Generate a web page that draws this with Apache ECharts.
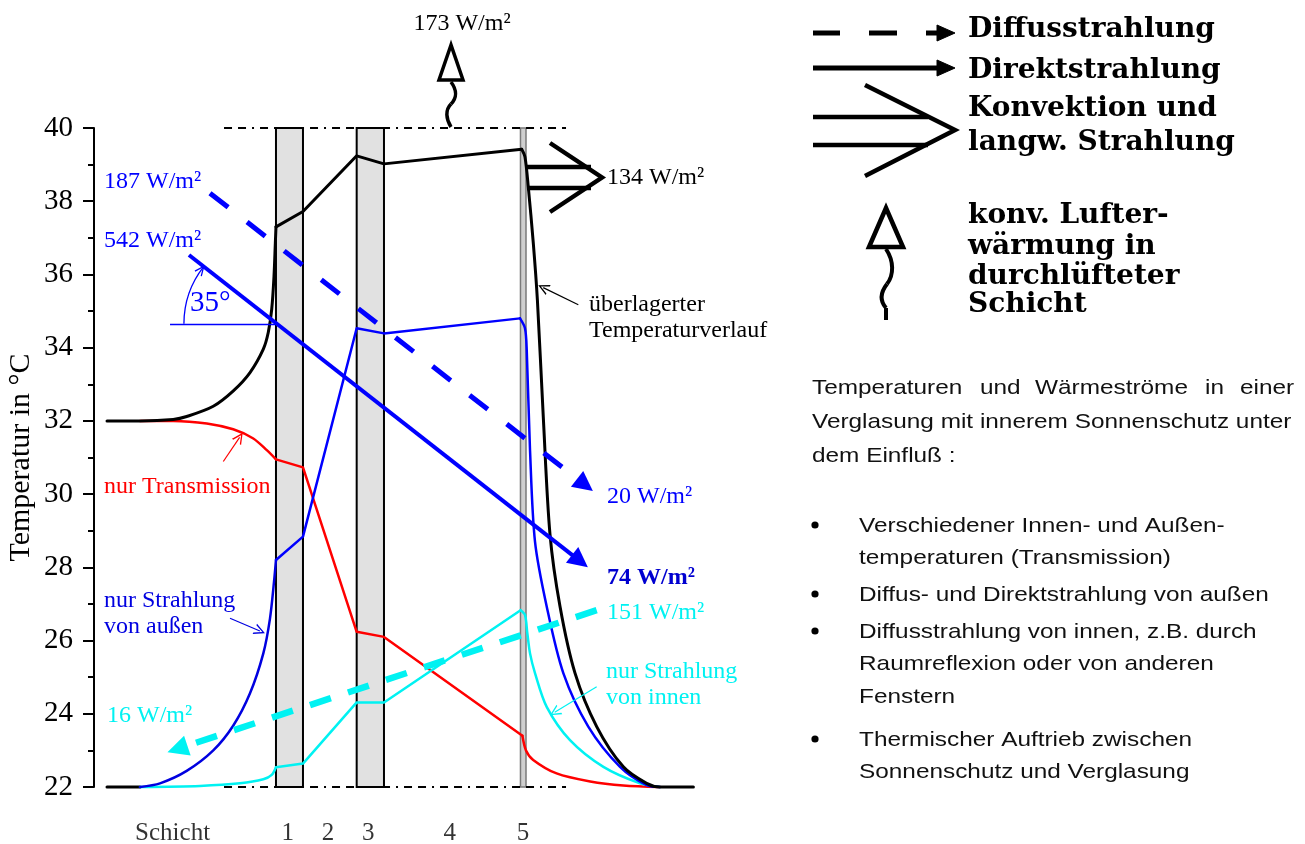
<!DOCTYPE html>
<html><head><meta charset="utf-8">
<script src="https://cdn.jsdelivr.net/npm/echarts@6/dist/echarts.min.js"></script>
<style>html,body{margin:0;padding:0;background:#fff}#c{width:1305px;height:844px}</style>
</head><body><div id="c"></div>
<script>
// ---------- data (x: position across the glazing, arbitrary units 0..100; y: temperature in °C) ----------
const layerBands = [[30.33, 34.83], [43.78, 48.33], [71.08, 72.0]];
const layerNames = ['Schicht', '1', '2', '3', '4', '5'];
const layerNamePos = [13.1, 32.3, 39.0, 45.7, 59.3, 71.5];

const blackLowFlat = [[2.17, 22], [7.67, 22]];
const blackLeft = [[2.17,32],[7.67,32],[13.2,32.04],[15.45,32.12],[19.88,32.4],[23.22,32.82],[26,33.32],[28.22,33.96],[29.05,34.42],[29.62,35.05],[30.0,35.95],[30.22,36.85],[30.33,37.3]];
const blackLayers = [[30.33,37.3],[34.83,37.72],[43.78,39.24],[48.33,39.02],[71.28,39.42]];
const blackRight = [[71.28,39.42],[71.83,39.21],[72.38,38.39],[73.22,36.85],[73.9,35.3],[74.88,32.11],[76.0,28.9],[77.67,26.93],[80.17,25.11],[83.78,23.65],[88.22,22.55],[92.1,22.1],[94.33,22.0],[99.9,22.0]];

const redLeft = [[7.67,32],[13.2,32],[18.8,31.93],[23.2,31.77],[26.55,31.52],[28.8,31.2],[30.33,30.95]];
const redLayers = [[30.33,30.95],[34.83,30.73],[43.78,26.24],[48.33,26.1],[71.4,23.4]];
const redRight = [[71.4,23.4],[72.0,23.0],[73.2,22.74],[77.1,22.37],[82.7,22.15],[88.2,22.04],[94.33,22]];

const blueLeft = [[7.67,22],[11,22.1],[15.45,22.44],[19.88,23.0],[23.22,23.68],[26,24.56],[28.22,25.65],[29.33,26.6],[30,27.6],[30.33,28.2]];
const blueLayers = [[30.33,28.2],[34.83,28.84],[43.78,34.53],[48.33,34.39],[71.0,34.8]];
const blueRight = [[71.0,34.8],[71.83,34.53],[72.12,33.94],[72.67,31.2],[73.5,28.7],[75.45,26.93],[78.22,25.11],[82.38,23.65],[87.67,22.55],[92.1,22.05],[94.33,22]];

const cyanLeft = [[7.67,22],[17.67,22.03],[24.33,22.1],[28.22,22.21],[29.62,22.33],[30.33,22.54]];
const cyanLayers = [[30.33,22.54],[34.83,22.64],[43.78,24.31],[48.33,24.31],[71.1,26.83]];
const cyanRight = [[71.1,26.83],[71.83,26.7],[72.22,26.2],[72.67,25.65],[73.5,25.11],[75.45,24.19],[79.33,23.28],[84.9,22.55],[91,22.1],[94.33,22]];

// radiation flux arrows (start, arrow end)
const diffusOutside = [[19.33, 38.22], [81.83, 30.25]];
const direktOutside = [[15.83, 36.53], [81.0, 28.17]];
const diffusInside = [[83.78, 26.83], [13.9, 23.04]];
const angleRef = [[12.67, 34.65], [30.17, 34.65]];
const boundaryTop = [[21.67, 40], [78.67, 40]];
const boundaryBottom = [[21.67, 22], [78.67, 22]];

// pointer arrows of the curve labels (start, tip)
const pointerRed = [[21.55, 30.89], [24.27, 31.55]];
const pointerBlue = [[22.67, 26.61], [27.65, 26.26]];
const pointerCyan = [[83.78, 24.74], [76.78, 24.04]];
const pointerBlack = [[80.72, 35.17], [74.87, 35.64]];

const fluxLabels = ['187 W/m²', '542 W/m²', '20 W/m²', '74 W/m²', '151 W/m²', '16 W/m²', '173 W/m²', '134 W/m²'];

// ---------- styles ----------
const SERIF = 'Liberation Serif';
const C_BLACK = '#000000', C_RED = '#ff0000', C_BLUE = '#0000e0', C_BLUE2 = '#0000ff', C_CYAN = '#00f2f2';

function curve(data, color, width, smooth) {
  return { type: 'line', data, symbol: 'none', showSymbol: false, silent: true, z: 4,
    smooth: smooth ? 0.3 : false, clip: false,
    lineStyle: { color, width, join: 'round', cap: 'round' } };
}
function lineSeg(coordsList, color, width, type, endSymbol, symSize, z) {
  return { type: 'lines', coordinateSystem: 'cartesian2d', silent: true, z: z || 5,
    polyline: false, clip: false,
    symbol: ['none', endSymbol || 'none'], symbolSize: symSize || 10,
    lineStyle: { color, width, type: type || 'solid', opacity: 1, curveness: 0, cap: 'butt' },
    data: coordsList.map(c => ({ coords: c })) };
}
const CHEV = 'path://M0,10 L5,0 L10,10 L8.6,10 L5,2.6 L1.4,10 Z';

const chart = echarts.init(document.getElementById('c'), null, { renderer: 'canvas' });

const option = {
  animation: false,
  backgroundColor: '#ffffff',
  grid: { left: 94, right: 611, top: 128, bottom: 57, containLabel: false, outerBoundsMode: 'none' },
  xAxis: { type: 'value', min: 0, max: 100, show: false, splitLine: { show: false } },
  yAxis: {
    type: 'value', min: 22, max: 40, interval: 2,
    axisLine: { show: true, onZero: false, lineStyle: { color: '#000', width: 2 } },
    axisTick: { show: true, length: 11, lineStyle: { color: '#000', width: 2 } },
    minorTick: { show: true, splitNumber: 2, length: 6, lineStyle: { color: '#000', width: 2 } },
    splitLine: { show: false }, minorSplitLine: { show: false },
    axisLabel: { color: '#000', fontFamily: SERIF, fontSize: 29, margin: 21 },
    name: 'Temperatur in °C', nameLocation: 'middle', nameGap: 58,
    nameTextStyle: { color: '#000', fontFamily: SERIF, fontSize: 30 }
  },
  series: [
    { type: 'custom', silent: true, z: 1, clip: false,
      data: layerBands, encode: { x: [0, 1] },
      renderItem: function (params, api) {
        const p0 = api.coord([api.value(0), 40]);
        const p1 = api.coord([api.value(1), 22]);
        const thin = params.dataIndex === 2;
        return { type: 'rect',
          shape: { x: p0[0], y: p0[1], width: p1[0] - p0[0], height: p1[1] - p0[1] },
          style: { fill: thin ? '#cfcfcf' : '#e1e1e1', stroke: thin ? '#7a7a7a' : '#000', lineWidth: thin ? 1.5 : 2 } };
      } },
    lineSeg([boundaryTop, boundaryBottom], C_BLACK, 2, [8, 6, 8, 6, 2, 6], 'none', 10, 2),
    curve(blackLowFlat, C_BLACK, 3, false),
    curve(redLeft, C_RED, 2.5, true), curve(redLayers, C_RED, 2.5, false), curve(redRight, C_RED, 2.5, true),
    curve(cyanLeft, C_CYAN, 2.5, true), curve(cyanLayers, C_CYAN, 2.5, false), curve(cyanRight, C_CYAN, 2.5, true),
    curve(blueLeft, C_BLUE, 2.5, true), curve(blueLayers, C_BLUE2, 2.5, false), curve(blueRight, C_BLUE2, 2.5, true),
    curve(blackLeft, C_BLACK, 3, true), curve(blackLayers, C_BLACK, 3, false), curve(blackRight, C_BLACK, 3, true),
    lineSeg([diffusOutside], C_BLUE2, 5, [23, 24], 'triangle', 20, 6),
    lineSeg([direktOutside], C_BLUE2, 4, 'solid', 'triangle', 20, 6),
    lineSeg([diffusInside], C_CYAN, 6.5, [22, 18], 'triangle', 21, 6),
    lineSeg([angleRef], C_BLUE2, 1.3, 'solid', 'none', 10, 6),
    lineSeg([pointerRed], C_RED, 1.2, 'solid', CHEV, 11, 6),
    lineSeg([pointerBlue], C_BLUE, 1.2, 'solid', CHEV, 11, 6),
    lineSeg([pointerCyan], C_CYAN, 1.2, 'solid', CHEV, 11, 6),
    lineSeg([pointerBlack], C_BLACK, 1.2, 'solid', CHEV, 11, 6),
    { type: 'scatter', silent: true, z: 6, clip: false, symbolSize: 1,
      itemStyle: { color: 'rgba(0,0,0,0)' },
      data: layerNamePos.map(x => [x, 22]),
      label: { show: true, position: 'inside', offset: [0, 46], color: '#000', fontFamily: SERIF, fontSize: 25,
        formatter: p => layerNames[p.dataIndex] } }
  ]
};
chart.setOption(option);

// ---------- annotations ----------
function txt(x, y, text, o) {
  o = o || {};
  return { type: 'text', x, y, z: 20, scaleX: o.sx || 1, silent: true,
    style: { text, fill: o.color || '#000', fontFamily: o.font || SERIF, fontSize: o.size || 24,
      fontWeight: o.weight || 'normal', align: o.align || 'left', verticalAlign: 'middle',
      textAlign: o.align || 'left', textVerticalAlign: 'middle' } };
}
function poly(points, stroke, lw, fill) {
  return { type: fill ? 'polygon' : 'polyline', z: 20, silent: true, shape: { points },
    style: { stroke, lineWidth: lw, fill: fill || null, lineJoin: 'miter' } };
}
function seg(x1, y1, x2, y2, lw, dash) {
  return { type: 'line', z: 20, silent: true, shape: { x1, y1, x2, y2 },
    style: { stroke: '#000', lineWidth: lw, lineDash: dash || null } };
}
function bez(x1, y1, c1x, c1y, c2x, c2y, x2, y2, lw) {
  return { type: 'bezierCurve', z: 20, silent: true,
    shape: { x1, y1, cpx1: c1x, cpy1: c1y, cpx2: c2x, cpy2: c2y, x2, y2 },
    style: { stroke: '#000', lineWidth: lw, fill: null } };
}

const g = [];
// flux labels inside the chart
g.push(txt(104, 182, fluxLabels[0], { color: C_BLUE2 }));
g.push(txt(104, 241, fluxLabels[1], { color: C_BLUE2 }));
g.push(txt(607, 497, fluxLabels[2], { color: C_BLUE2 }));
g.push(txt(607, 578, fluxLabels[3], { color: '#0000d0', weight: 'bold' }));
g.push(txt(607, 613, fluxLabels[4], { color: C_CYAN }));
g.push(txt(107, 716, fluxLabels[5], { color: C_CYAN }));
g.push(txt(462, 24, fluxLabels[6], { align: 'center' }));
g.push(txt(607, 178, fluxLabels[7]));
g.push(txt(190, 303, '35°', { color: C_BLUE2, size: 29 }));
// curve labels
g.push(txt(104, 487, 'nur Transmission', { color: C_RED }));
g.push(txt(104, 601, 'nur Strahlung', { color: C_BLUE }));
g.push(txt(104, 627, 'von außen', { color: C_BLUE }));
g.push(txt(606, 672, 'nur Strahlung', { color: C_CYAN }));
g.push(txt(606, 698, 'von innen', { color: C_CYAN }));
g.push(txt(589, 305, 'überlagerter'));
g.push(txt(589, 331, 'Temperaturverlauf'));

// 35° arc between reference line and direct radiation line
(function () {
  const a = chart.convertToPixel({ gridIndex: 0 }, direktOutside[0]);
  const b = chart.convertToPixel({ gridIndex: 0 }, direktOutside[1]);
  const yRef = chart.convertToPixel({ gridIndex: 0 }, angleRef[0])[1];
  const k = (b[1] - a[1]) / (b[0] - a[0]);
  const cx = a[0] + (yRef - a[1]) / k, cy = yRef;
  const ang = Math.atan(k), r = 93;
  g.push({ type: 'arc', z: 20, silent: true,
    shape: { cx, cy, r, startAngle: Math.PI, endAngle: Math.PI + ang, clockwise: true },
    style: { stroke: C_BLUE2, lineWidth: 1.3, fill: null } });
  const th = Math.PI + ang;
  const ex = cx + r * Math.cos(th), ey = cy + r * Math.sin(th);
  const tx = -Math.sin(th), ty = Math.cos(th);
  const nx = -ty, ny = tx;
  g.push(poly([[ex - 9 * tx + 4 * nx, ey - 9 * ty + 4 * ny], [ex, ey], [ex - 9 * tx - 4 * nx, ey - 9 * ty - 4 * ny]], C_BLUE2, 1.3));
})();

// air heating arrow (173 W/m²)
g.push(bez(451, 82, 457, 90, 457, 98, 451, 104, 3.5));
g.push(bez(451, 104, 445, 110, 446, 119, 451, 127, 3.5));
g.push(poly([[451, 45], [439, 80], [463, 80]], '#000', 3.5, '#ffffff'));
// convection arrow (134 W/m²)
g.push(seg(527, 167, 591, 167, 4.5));
g.push(seg(527, 188, 591, 188, 4.5));
g.push(poly([[550, 143], [602, 177.5], [550, 212]], '#000', 4.5));

// ---------- legend on the right ----------
const LF = 'DejaVu Serif';
const LO = { font: LF, size: 28, weight: 'bold' };
g.push(seg(813, 33, 840, 33, 5)); g.push(seg(869, 33, 897, 33, 5)); g.push(seg(926, 33, 940, 33, 5));
g.push(poly([[955, 33], [937, 25], [937, 41]], '#000', 1, '#000'));
g.push(txt(968, 30, 'Diffusstrahlung', LO));
g.push(seg(813, 68, 940, 68, 5));
g.push(poly([[955, 68], [937, 60], [937, 76]], '#000', 1, '#000'));
g.push(txt(968, 71, 'Direktstrahlung', LO));
g.push(seg(813, 117, 928, 117, 4.5));
g.push(seg(813, 145, 928, 145, 4.5));
g.push(poly([[865, 85], [955, 130], [865, 176]], '#000', 4.5));
g.push(txt(968, 109, 'Konvektion und', LO));
g.push(txt(968, 143, 'langw. Strahlung', LO));
g.push(bez(886, 249, 894, 261, 894, 275, 887, 284, 4));
g.push(bez(887, 284, 880, 293, 880, 301, 886, 308, 4));
g.push(seg(886, 308, 886, 320, 4));
g.push(poly([[886, 208], [869, 247], [903, 247]], '#000', 4.5, '#ffffff'));
g.push(txt(968, 216, 'konv. Lufter-', LO));
g.push(txt(968, 247, 'wärmung in', LO));
g.push(txt(968, 277, 'durchlüfteter', LO));
g.push(txt(968, 305, 'Schicht', LO));

// ---------- description text ----------
const SANS = 'Liberation Sans';
const P = { font: SANS, size: 21, sx: 1.16, color: '#111' };
const line1 = [['Temperaturen', 812], ['und', 980], ['Wärmeströme', 1035], ['in', 1205], ['einer', 1240]];
line1.forEach(w => g.push(txt(w[1], 388, w[0], P)));
g.push(txt(812, 422, 'Verglasung mit innerem Sonnenschutz unter', P));
g.push(txt(812, 456, 'dem Einfluß :', P));
const bullets = [
  [526, ['Verschiedener Innen- und Außen-', 'temperaturen (Transmission)']],
  [595, ['Diffus- und Direktstrahlung von außen']],
  [632, ['Diffusstrahlung von innen, z.B. durch', 'Raumreflexion oder von anderen', 'Fenstern']],
  [740, ['Thermischer Auftrieb zwischen', 'Sonnenschutz und Verglasung']]
];
bullets.forEach(b => {
  g.push({ type: 'circle', z: 20, silent: true, shape: { cx: 815, cy: b[0] - 1, r: 3.6 }, style: { fill: '#000' } });
  b[1].forEach((t, i) => g.push(txt(859, b[0] + i * 32.5, t, P)));
});

chart.setOption({ graphic: { elements: g } });
</script>
</body></html>
